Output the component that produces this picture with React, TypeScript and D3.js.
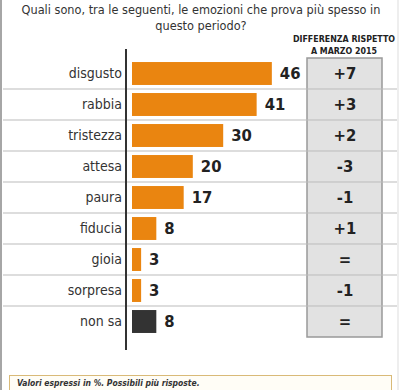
import React from "react";
import * as d3 from "d3";

const categories = ["disgusto", "rabbia", "tristezza", "attesa", "paura", "fiducia", "gioia", "sorpresa", "non sa"];
const values = [46, 41, 30, 20, 17, 8, 3, 3, 8];
const differences = ["+7", "+3", "+2", "-3", "-1", "+1", "=", "-1", "="];
const titleLines = ["Quali sono, tra le seguenti, le emozioni che prova più spesso in", "questo periodo?"];
const headerLines = ["DIFFERENZA RISPETTO", "A MARZO 2015"];
const footnote = "Valori espressi in %. Possibili più risposte.";

const W = 400;
const H = 390;
const FONT = "'DejaVu Sans Condensed', 'Liberation Sans Narrow', 'Open Sans', sans-serif";

export default function App() {
  const x = d3.scaleLinear().domain([0, 50]).range([0, 152]);
  const y = d3.scaleBand<string>().domain(categories).range([58, 337]).paddingInner(0.26).paddingOuter(0.13);
  const step = y.step();
  const top = 58;
  const barX = 132;
  const axisX = 126;

  return (
    <svg width={W} height={H} style={{ position: "absolute", left: 0, top: 0, background: "#fff" }}>
      <rect x={0} y={0} width={W} height={H} fill="#fff" />
      <line x1={1} x2={1} y1={0} y2={H} stroke="#888" strokeWidth={1.5} />
      <line x1={398} x2={398} y1={0} y2={H} stroke="#ddd" strokeWidth={1} />
      {titleLines.map((t, i) => (
        <text key={t} x={201} y={14 + i * 16} textAnchor="middle" fontFamily={FONT} fontSize={12.6} fill="#333">
          {t}
        </text>
      ))}
      {/* diff box */}
      <rect x={307} y={top} width={75} height={279} fill="#e2e2e2" stroke="#999" strokeWidth={1.5} />
      {categories.slice(0, -1).map((c, i) => (
        <line key={"sep" + c} x1={3} x2={397} y1={top + (i + 1) * step} y2={top + (i + 1) * step} stroke="#bbb" strokeWidth={1} />
      ))}
      {headerLines.map((t, i) => (
        <text key={t} x={344} y={41.5 + i * 12.5} textAnchor="middle" fontFamily={FONT} fontWeight="bold" fontSize={8.8} fill="#222">
          {t}
        </text>
      ))}
      {categories.map((c, i) => {
        const yc = (y(c) as number) + y.bandwidth() / 2;
        return (
          <g key={c}>
            <text x={122} y={yc} dy="0.35em" textAnchor="end" fontFamily={FONT} fontSize={14} fill="#333">
              {c}
            </text>
            <rect x={barX} y={y(c)} width={x(values[i])} height={y.bandwidth()} fill={c === "non sa" ? "#333333" : "#ea8510"} />
            <text x={barX + x(values[i]) + 8} y={yc} dy="0.36em" fontFamily={FONT} fontWeight="bold" fontSize={16.5} fill="#222">
              {values[i]}
            </text>
            <text x={345} y={yc} dy="0.36em" textAnchor="middle" fontFamily={FONT} fontWeight="bold" fontSize={16.5} fill="#222">
              {differences[i]}
            </text>
          </g>
        );
      })}
      <line x1={axisX} x2={axisX} y1={49} y2={350} stroke="#333" strokeWidth={2} />
      <rect x={9.5} y={375.5} width={382} height={20} fill="#fffdf6" stroke="#d9ba78" strokeWidth={1} />
      <text x={17} y={386} fontFamily={FONT} fontStyle="italic" fontWeight="bold" fontSize={8.5} fill="#333">
        {footnote}
      </text>
    </svg>
  );
}
